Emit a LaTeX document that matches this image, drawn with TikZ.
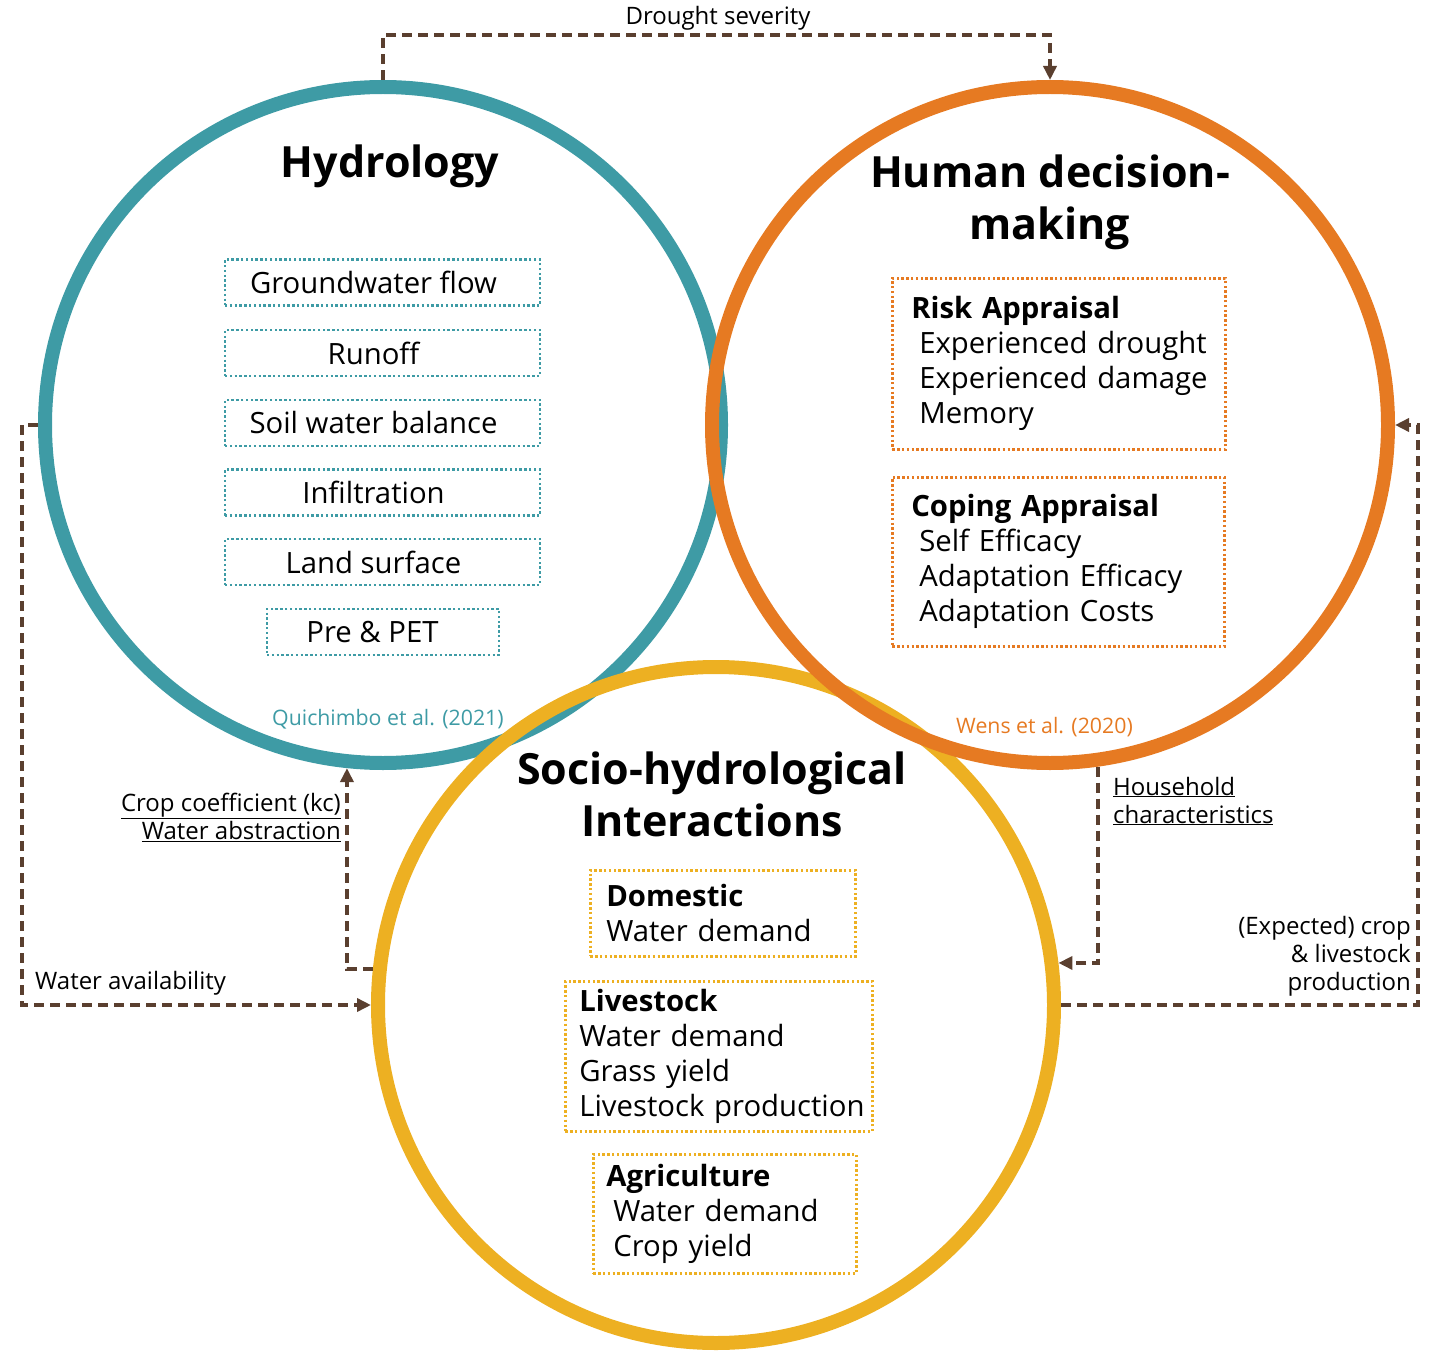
\documentclass[tikz,border=0pt]{standalone}
\usepackage{fontspec}
\setmainfont{Open Sans}
\usetikzlibrary{arrows.meta}
\definecolor{hydc}{HTML}{3E9BA5}
\definecolor{humc}{HTML}{E67A22}
\definecolor{socc}{HTML}{EDB022}
\definecolor{brn}{HTML}{5A3F2F}
\hbadness=10000 \hfuzz=100pt
\begin{document}
\begin{tikzpicture}[x=1pt,y=-1pt,
  ring/.style={circle, draw=#1, line width=14pt, minimum size=676pt, inner sep=0pt, outer sep=7pt},
  dotbox/.style={draw=#1, line width=2.6pt, dash pattern=on 2.4pt off 2.4pt, inner ysep=0pt},
  hbox/.style={dotbox=hydc, minimum width=315pt, minimum height=46pt, inner xsep=0pt, font=\fontsize{29.3}{35}\selectfont},
  listbox/.style={dotbox=#1, anchor=north west, align=left, font=\fontsize{29.3}{35}\selectfont},
  title/.style={font=\fontsize{43}{52}\selectfont\bfseries, align=center, inner sep=0pt},
  lbl/.style={font=\fontsize{24}{28}\selectfont, inner sep=0pt},
  cite/.style={font=\fontsize{21.3}{24}\selectfont, inner sep=0pt},
  conn/.style={draw=brn, line width=3.8pt, dash pattern=on 10pt off 6pt, -{Triangle[length=14pt,width=13pt]}},
]
\useasboundingbox (0,0) rectangle (1440,1356);
% circles
\node[ring=hydc] (hyd) at (383,425) {};
\node[ring=socc] (soc) at (716,1005) {};
\node[ring=humc] (hum) at (1050,425) {};

% titles
\node[title] (thyd) at (390,166) {Hydrology};
\node[title] (thum) at (1050,202) {Human decision-\\making};
\node[title] (tsoc) at (712,794) {Socio-hydrological\\Interactions};

% hydrology boxes
\node[hbox] (b1) at (382.5,282.5) {Groundwater flow\hspace*{18pt}};
\node[hbox] (b2) at (382.5,353) {Runoff\hspace*{18pt}};
\node[hbox] (b3) at (382.5,423) {Soil water balance\hspace*{18pt}};
\node[hbox] (b4) at (382.5,492.5) {Infiltration\hspace*{18pt}};
\node[hbox] (b5) at (382.5,562) {Land surface\hspace*{18pt}};
\node[hbox, minimum width=232pt] (b6) at (383,632) {Pre \& PET\hspace*{21pt}};

% human boxes
\node[listbox=humc, inner xsep=19pt, text width=295pt, minimum height=171pt] (risk) at (891,277)
  {\mbox{\textbf{Risk Appraisal}}\\\mbox{\hspace*{8pt}Experienced drought}\\\mbox{\hspace*{8pt}Experienced damage}\\\mbox{\hspace*{8pt}Memory}};
\node[listbox=humc, inner xsep=19pt, text width=294pt, minimum height=169pt] (cope) at (891,476)
  {\mbox{\textbf{Coping Appraisal}}\\\mbox{\hspace*{8pt}Self Efficacy}\\\mbox{\hspace*{8pt}Adaptation Efficacy}\\\mbox{\hspace*{8pt}Adaptation Costs}};

% socio boxes
\node[listbox=socc, inner xsep=16pt, text width=233pt, minimum height=86pt] (dom) at (589,869)
  {\mbox{\textbf{Domestic}}\\\mbox{Water demand}};
\node[listbox=socc, inner xsep=14pt, text width=279pt, minimum height=150pt] (live) at (564,980)
  {\mbox{\textbf{Livestock}}\\\mbox{Water demand}\\\mbox{Grass yield}\\\mbox{Livestock production}};
\node[listbox=socc, inner xsep=13pt, text width=237pt, minimum height=119pt] (agri) at (592,1153)
  {\mbox{\textbf{Agriculture}}\\\mbox{\hspace*{7pt}Water demand}\\\mbox{\hspace*{7pt}Crop yield}};

% citations
\node[cite, text=hydc, anchor=west] (c1) at (272,719) {Quichimbo et al. (2021)};
\node[cite, text=humc, anchor=west] (c2) at (956,727) {Wens et al. (2020)};

% connectors
\draw[conn] (hyd.north) -- ++(0,-45) -| (hum.north);
\node[lbl] (ldrought) at (718,18) {Drought severity};

\draw[conn] (hyd.west) -- ++(-16,0) |- (soc.west);
\node[lbl, anchor=west] (lwater) at (35,983) {Water availability};

\draw[conn] (soc.174.7) -| (hyd.264.3);
\node[lbl, anchor=east, align=right] (lcrop) at (341,817) {\underline{Crop coefficient (kc)}\\\underline{Water abstraction}};

\draw[conn] (hum.278.5) |- (soc.7.5);
\node[lbl, anchor=west, align=left] (lhouse) at (1113,801) {\underline{Household}\\\underline{characteristics}};

\draw[conn] (soc.east) -- ++(357,0) |- (hum.east);
\node[lbl, anchor=east, align=right] (lexp) at (1411,956) {(Expected) crop\\\& livestock\\production};
\end{tikzpicture}
\end{document}
